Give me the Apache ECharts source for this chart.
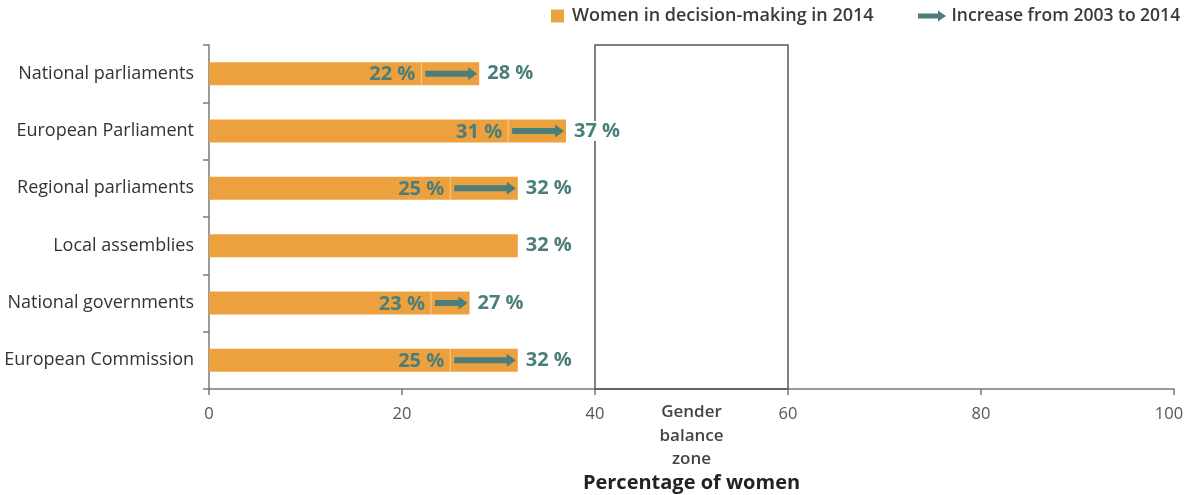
<!DOCTYPE html>
<html>
<head>
<meta charset="utf-8">
<script src="https://cdn.jsdelivr.net/npm/echarts@6/dist/echarts.min.js"></script>
<style>
  html, body { margin: 0; padding: 0; background: #fff; }
  #chart { width: 1186px; height: 495px; }
</style>
</head>
<body>
<div id="chart"></div>
<script>
// Women in political and public decision-making bodies
const categories = [
  'National parliaments',
  'European Parliament',
  'Regional parliaments',
  'Local assemblies',
  'National governments',
  'European Commission'
];
const share2014 = [28, 37, 32, 32, 27, 32];
const share2003 = [22, 31, 25, null, 23, 25];
const xTicks = [0, 20, 40, 60, 80, 100];
const balanceZone = [40, 60];

const ORANGE = '#ECA03E';
const TEAL = '#4B7E7B';
const FONT = '"Open Sans", "Noto Sans", sans-serif';

// arrow data: [from (2003), to (2014), category index]
const arrowData = [];
share2003.forEach((v, i) => {
  if (v != null) arrowData.push([v, share2014[i], i]);
});

function renderArrow(params, api) {
  const idx = api.value(2);
  const y = api.coord([0, idx])[1];
  const x0 = api.coord([api.value(0), idx])[0];
  const x1 = api.coord([api.value(1), idx])[0];
  const shaft = 3, headH = 6.5, headL = 9;
  const start = x0 + 4, tip = x1 - 2;
  return {
    type: 'group',
    children: [
      {
        type: 'line',
        shape: { x1: x0, y1: y - 11.5, x2: x0, y2: y + 11.5 },
        style: { stroke: '#F7CD92', lineWidth: 1 }
      },
      {
        type: 'polygon',
        shape: {
          points: [
            [start, y - shaft], [tip - headL, y - shaft], [tip - headL, y - headH],
            [tip, y], [tip - headL, y + headH], [tip - headL, y + shaft], [start, y + shaft]
          ]
        },
        style: { fill: TEAL }
      },
      {
        type: 'text',
        style: {
          text: api.value(0) + ' %',
          x: x0 - 6,
          y: y + 1,
          align: 'right',
          verticalAlign: 'middle',
          fill: TEAL,
          fontSize: 20,
          fontWeight: 'bold',
          fontFamily: FONT
        }
      }
    ]
  };
}

const chart = echarts.init(document.getElementById('chart'), null, { renderer: 'canvas' });

chart.setOption({
  animation: false,
  textStyle: { fontFamily: FONT },
  legend: [
    {
      left: 546,
      top: 2,
      itemWidth: 13,
      itemHeight: 13,
      data: [{ name: 'Women in decision-making in 2014', icon: 'rect' }],
      textStyle: { fontSize: 18, fontWeight: 600, color: '#3a3a3a', fontFamily: FONT, padding: [0, 0, 0, 3] }
    },
    {
      left: 913,
      top: 2,
      itemWidth: 29,
      itemHeight: 11,
      data: [{ name: 'Increase from 2003 to 2014', icon: 'path://M0,3 L20,3 L20,0 L28,5.5 L20,11 L20,8 L0,8 Z' }],
      textStyle: { fontSize: 17.5, fontWeight: 600, color: '#3a3a3a', fontFamily: FONT }
    }
  ],
  grid: { left: 209, right: 12, top: 45, height: 344, containLabel: false, outerBoundsMode: 'none' },
  xAxis: {
    type: 'value',
    min: xTicks[0],
    max: xTicks[xTicks.length - 1],
    interval: xTicks[1] - xTicks[0],
    splitLine: { show: false },
    axisLine: { show: true, lineStyle: { color: '#7a7a7a', width: 1.5 } },
    axisTick: { show: true, length: 6, lineStyle: { color: '#7a7a7a', width: 1.5 } },
    axisLabel: {
      fontSize: 16.5,
      color: '#555',
      margin: 17,
      fontFamily: FONT,
      // keep the last tick label inside the right edge
      formatter: v => (v === xTicks[xTicks.length - 1] ? '{last|' + v + '}' : String(v)),
      rich: { last: { fontSize: 16.5, color: '#555', fontFamily: FONT, padding: [0, 10, 0, 0] } }
    },
    name: 'Percentage of women',
    nameLocation: 'middle',
    nameGap: 84,
    nameTextStyle: { fontSize: 20, fontWeight: 'bold', color: '#222', fontFamily: FONT }
  },
  yAxis: {
    type: 'category',
    data: categories,
    inverse: true,
    axisLine: { show: true, lineStyle: { color: '#7a7a7a', width: 1.5 } },
    axisTick: { show: true, length: 6, alignWithLabel: false, lineStyle: { color: '#7a7a7a', width: 1.5 } },
    axisLabel: { fontSize: 18, color: '#333', margin: 15, fontFamily: FONT }
  },
  series: [
    {
      name: 'Women in decision-making in 2014',
      type: 'bar',
      data: share2014,
      barWidth: 23,
      itemStyle: { color: ORANGE },
      label: {
        show: true,
        position: 'right',
        distance: 6,
        formatter: p => p.value + ' %',
        color: TEAL,
        fontSize: 20,
        fontWeight: 'bold',
        fontFamily: FONT,
        backgroundColor: '#fff',
        padding: [0, 2]
      },
      markArea: {
        silent: true,
        itemStyle: { color: 'rgba(0,0,0,0)', borderColor: '#555', borderWidth: 1.5 },
        label: {
          show: true,
          position: 'bottom',
          distance: 11,
          formatter: 'Gender\nbalance\nzone',
          fontSize: 17,
          lineHeight: 23.5,
          fontWeight: 600,
          color: '#444',
          fontFamily: FONT,
          align: 'center'
        },
        data: [[{ xAxis: balanceZone[0] }, { xAxis: balanceZone[1] }]]
      },
      z: 2
    },
    {
      name: 'Increase from 2003 to 2014',
      type: 'custom',
      renderItem: renderArrow,
      data: arrowData,
      encode: { x: [0, 1], y: 2 },
      itemStyle: { color: TEAL },
      z: 3
    }
  ]
});
</script>
</body>
</html>
